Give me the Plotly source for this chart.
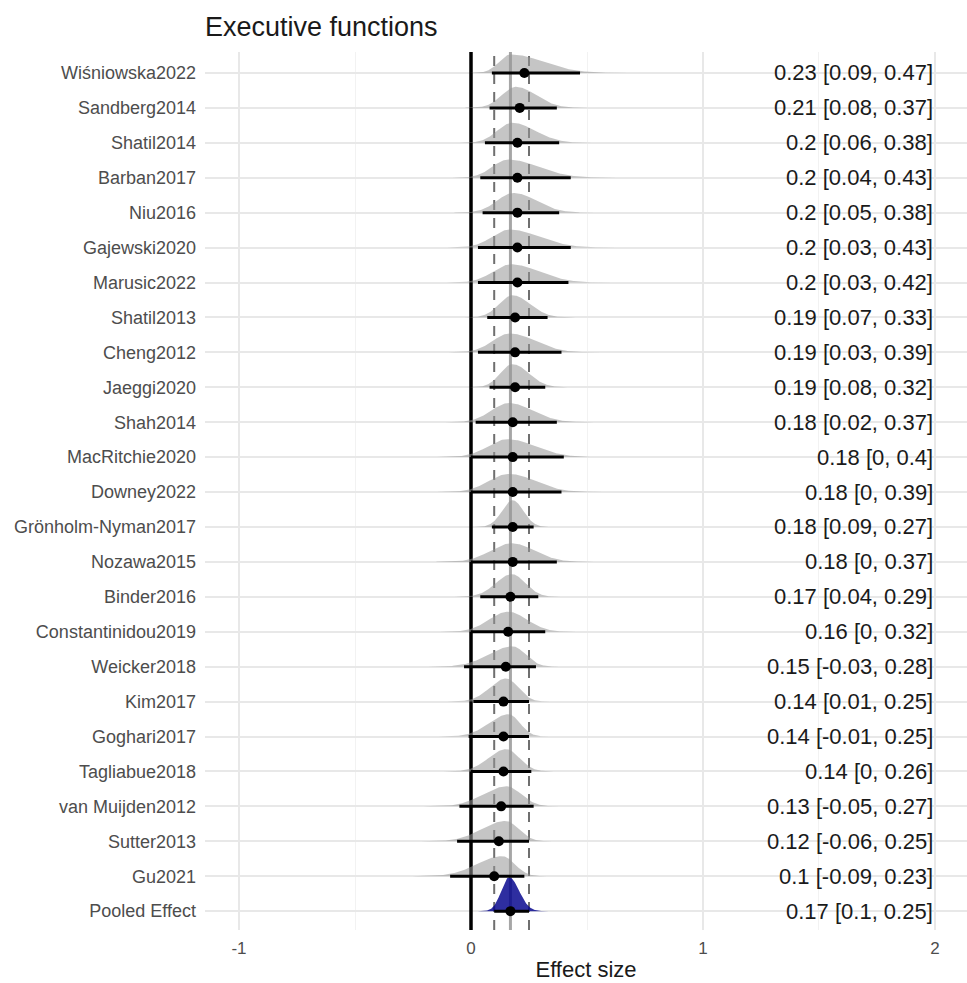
import numpy as np
import plotly.graph_objects as go
from statistics import NormalDist

# Study-level posterior summaries (median and 95% interval), top to bottom
studies = ["Wiśniowska2022", "Sandberg2014", "Shatil2014", "Barban2017", "Niu2016",
           "Gajewski2020", "Marusic2022", "Shatil2013", "Cheng2012", "Jaeggi2020",
           "Shah2014", "MacRitchie2020", "Downey2022", "Grönholm-Nyman2017", "Nozawa2015",
           "Binder2016", "Constantinidou2019", "Weicker2018", "Kim2017", "Goghari2017",
           "Tagliabue2018", "van Muijden2012", "Sutter2013", "Gu2021"]
est = [0.23, 0.21, 0.2, 0.2, 0.2, 0.2, 0.2, 0.19, 0.19, 0.19, 0.18, 0.18, 0.18, 0.18,
       0.18, 0.17, 0.16, 0.15, 0.14, 0.14, 0.14, 0.13, 0.12, 0.1]
lower = [0.09, 0.08, 0.06, 0.04, 0.05, 0.03, 0.03, 0.07, 0.03, 0.08, 0.02, 0, 0, 0.09,
         0, 0.04, 0, -0.03, 0.01, -0.01, 0, -0.05, -0.06, -0.09]
upper = [0.47, 0.37, 0.38, 0.43, 0.38, 0.43, 0.42, 0.33, 0.39, 0.32, 0.37, 0.4, 0.39,
         0.27, 0.37, 0.29, 0.32, 0.28, 0.25, 0.25, 0.26, 0.27, 0.25, 0.23]

pooled_label = "Pooled Effect"
pooled_est, pooled_lo, pooled_hi = 0.17, 0.1, 0.25

x_ticks = [-1, 0, 1, 2]

N = NormalDist()


def split_normal(lo, med, hi):
    """Fit a split-normal (mode, s_left, s_right) whose 2.5%, 50% and 97.5%
    quantiles equal lo, med and hi."""
    def params(p):
        a = N.inv_cdf(0.025 / (2 * p))
        b = N.inv_cdf(1 - 0.025 / (2 * (1 - p)))
        r = p / (1 - p)
        s2 = (hi - lo) / (b - r * a)
        s1 = r * s2
        m = hi - s2 * b
        if p >= 0.5:
            mx = m + s1 * N.inv_cdf(0.25 / p)
        else:
            mx = m + s2 * N.inv_cdf(1 - 0.25 / (1 - p))
        return m, s1, s2, mx

    p_lo, p_hi = 0.02, 0.98
    for _ in range(80):
        p = 0.5 * (p_lo + p_hi)
        m, s1, s2, mx = params(p)
        if mx < med:
            p_lo = p
        else:
            p_hi = p
    m, s1, s2, _ = params(0.5 * (p_lo + p_hi))
    return m, s1, s2


def density_curve(lo, med, hi, n=240, spread=3.6):
    m, s1, s2 = split_normal(lo, med, hi)
    xs = np.linspace(m - spread * s1, m + spread * s2, n)
    s = np.where(xs < m, s1, s2)
    pdf = 2.0 / (np.sqrt(2 * np.pi) * (s1 + s2)) * np.exp(-((xs - m) ** 2) / (2 * s ** 2))
    return xs, pdf, pdf.max()


def fmt(v):
    s = f"{v:g}"
    return "0" if s == "-0" else s


n = len(studies)
ys = [n - i for i in range(n)]  # study rows, pooled row sits at 0
labels = [f"{fmt(e)} [{fmt(l)}, {fmt(h)}]" for e, l, h in zip(est, lower, upper)]
y_range = [-0.54, n + 0.6]

fig = go.Figure()


def vline(xv, color, width, dash="solid"):
    fig.add_trace(go.Scatter(x=[xv, xv], y=y_range, mode="lines",
                             line=dict(color=color, width=width, dash=dash),
                             hoverinfo="skip", showlegend=False))


# Reference lines: pooled estimate, its interval and the null effect
vline(pooled_est, "rgba(128,128,128,0.7)", 3)
for xv in (pooled_lo, pooled_hi):
    vline(xv, "rgba(95,95,95,0.9)", 2, "10px,8px")
vline(0, "black", 3.5)

# Grey posterior densities for each study
for y, e, l, h in zip(ys, est, lower, upper):
    xs, pdf, peak = density_curve(l, e, h)
    height = 0.55 * np.sqrt(peak / 4.5)
    top = y + height * pdf / peak
    fig.add_trace(go.Scatter(
        x=np.concatenate([xs, xs[::-1]]),
        y=np.concatenate([top, np.full_like(xs, y)]),
        mode="lines", fill="toself", fillcolor="rgba(150,150,150,0.55)",
        line=dict(width=0, color="rgba(150,150,150,0)"),
        hoverinfo="skip", showlegend=False))

# Pooled density in blue
pxs, ppdf, ppeak = density_curve(pooled_lo, pooled_est, pooled_hi, spread=4.0)
fig.add_trace(go.Scatter(
    x=np.concatenate([pxs, pxs[::-1]]),
    y=np.concatenate([0.97 * ppdf / ppeak, np.zeros_like(pxs)]),
    mode="lines", fill="toself", fillcolor="rgba(0,0,139,0.82)",
    line=dict(width=0, color="rgba(0,0,139,0)"),
    hoverinfo="skip", showlegend=False))

# Interval lines
seg_x, seg_y = [], []
for y, l, h in zip(ys + [0], lower + [pooled_lo], upper + [pooled_hi]):
    seg_x += [l, h, None]
    seg_y += [y, y, None]
fig.add_trace(go.Scatter(x=seg_x, y=seg_y, mode="lines",
                         line=dict(color="black", width=3),
                         hoverinfo="skip", showlegend=False))

# Point estimates
fig.add_trace(go.Scatter(x=est + [pooled_est], y=ys + [0], mode="markers",
                         marker=dict(color="black", size=10),
                         showlegend=False))

# Estimate and interval text at the right edge
for y, t in zip(ys + [0], labels + [f"{fmt(pooled_est)} [{fmt(pooled_lo)}, {fmt(pooled_hi)}]"]):
    fig.add_annotation(x=2, y=y, text=t, xanchor="right", yanchor="middle",
                       showarrow=False, font=dict(size=22, color="#1a1a1a"))

font_family = "Liberation Sans, Arial, Helvetica, sans-serif"
fig.update_layout(
    width=967, height=983,
    margin=dict(l=205, r=0, t=52, b=53),
    paper_bgcolor="white", plot_bgcolor="white",
    font=dict(family=font_family, color="#4d4d4d"),
    title=dict(text="Executive functions", x=205 / 967, xref="container", xanchor="left",
               y=1 - 27 / 983, yref="container", yanchor="middle",
               font=dict(size=27, color="#1a1a1a")),
    showlegend=False,
)
fig.update_xaxes(
    range=[-1.1466, 2.138], tickvals=x_ticks, ticktext=[str(v) for v in x_ticks],
    showgrid=True, gridcolor="#e8e8e8", gridwidth=1.5, zeroline=False,
    minor=dict(dtick=0.5, tick0=0, showgrid=True, gridcolor="#f2f2f2", gridwidth=1),
    tickfont=dict(size=17, color="#4d4d4d"), ticklabelstandoff=6,
    title=dict(text="Effect size", font=dict(size=22, color="#1a1a1a"), standoff=4),
    showline=False, fixedrange=True,
)
fig.update_yaxes(
    range=y_range, tickvals=ys + [0], ticktext=studies + [pooled_label],
    showgrid=True, gridcolor="#e8e8e8", gridwidth=1.5, zeroline=False,
    tickfont=dict(size=18, color="#4d4d4d"), ticklabelstandoff=8,
    showline=False, fixedrange=True,
)

fig.write_html("out.html")
